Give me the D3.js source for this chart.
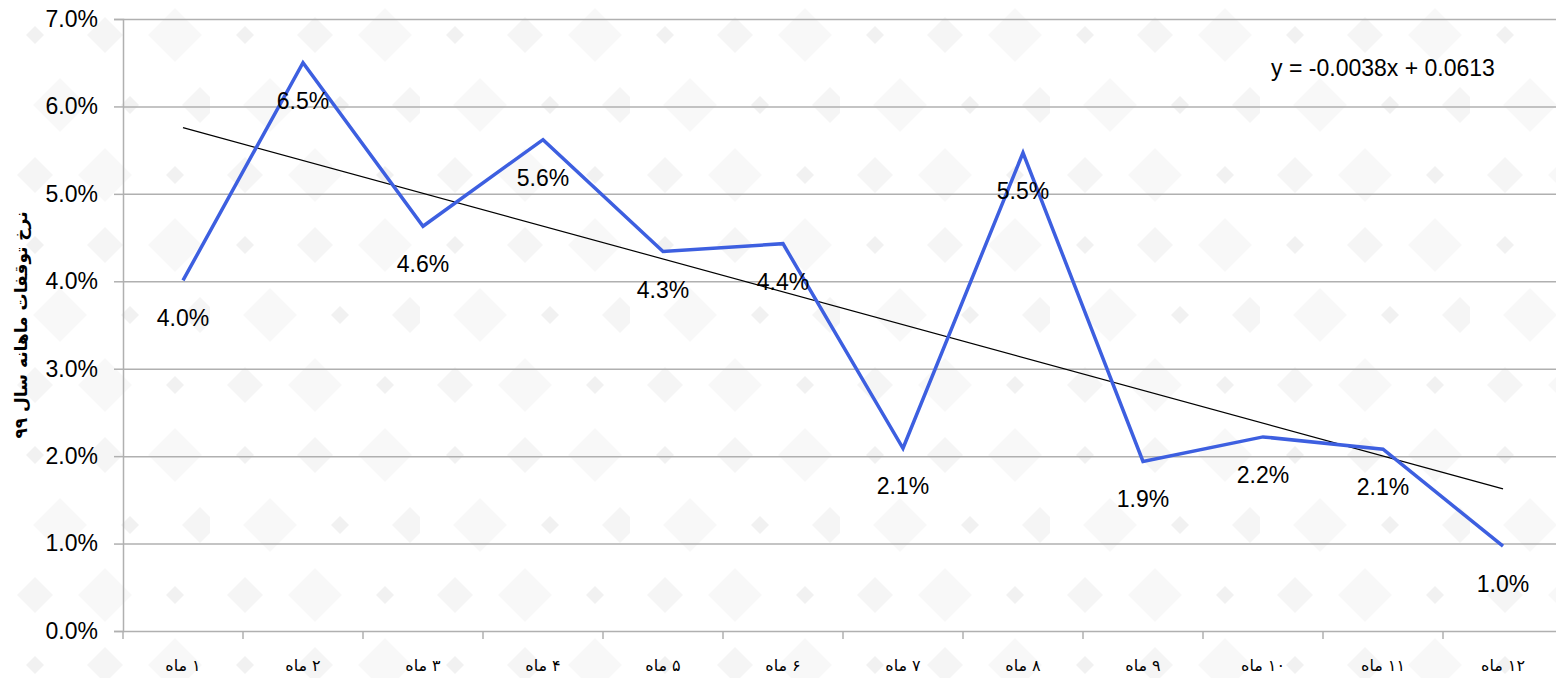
<!DOCTYPE html>
<html>
<head>
<meta charset="utf-8">
<script src="https://cdn.jsdelivr.net/npm/d3@7"></script>
<style>
    body { margin: 0; background: #fff; }
    svg { display: block; }
    .num { font-family: "Liberation Sans", Arial, sans-serif; font-size: 23px; fill: #000; }
    .fa { font-family: "DejaVu Sans", sans-serif; fill: #000; }
</style>
</head>
<body>
<svg id="chart" width="1556" height="678"></svg>
<script>
// categories: month 1 .. month 12 (Persian)
const months = ["ماه ۱", "ماه ۲", "ماه ۳", "ماه ۴", "ماه ۵", "ماه ۶",
                "ماه ۷", "ماه ۸", "ماه ۹", "ماه ۱۰", "ماه ۱۱", "ماه ۱۲"];
// monthly stop rate, year 99
const rates = [0.0401, 0.0650, 0.0463, 0.0562, 0.0434, 0.0443,
               0.0209, 0.0547, 0.0194, 0.0222, 0.0208, 0.0097];
const yTicks = [0, 0.01, 0.02, 0.03, 0.04, 0.05, 0.06, 0.07];
const yTitle = "نرخ توقفات ماهانه سال ۹۹";

function linearFit(vals) {
    // least squares on x = 1..n, same as excel's linear trendline
    const xs = vals.map((v, i) => i + 1);
    const mx = d3.mean(xs), my = d3.mean(vals);
    const sxy = d3.sum(vals, (v, i) => (xs[i] - mx) * (v - my));
    const sxx = d3.sum(xs, x => (x - mx) * (x - mx));
    const slope = sxy / sxx;
    return { slope: slope, intercept: my - slope * mx };
}

function buildChart() {
    const svg = d3.select("#chart");
    const left = 123, top = 19, bottom = 631, band = 120;

    const x = d3.scaleBand().domain(months).range([left, left + band * months.length]);
    const y = d3.scaleLinear().domain([0, 0.07]).range([bottom, top]);
    const cx = m => x(m) + x.bandwidth() / 2;

    // background diamonds (decoration only)
    const defs = svg.append("defs");
    const pat = defs.append("pattern").attr("id", "dia").attr("patternUnits", "userSpaceOnUse")
        .attr("width", 210).attr("height", 210);
    const sizes = [9, 18, 27], shades = ["#e2e2e2", "#ebebeb", "#f1f1f1"];
    for (let i = 0; i < 3; i++) {
        for (let j = 0; j < 3; j++) {
            const k = (i + 2 * j) % 3, s = sizes[k];
            const px = i * 70 + 35 + (j % 2) * 25, py = j * 70 + 35;
            pat.append("path")
                .attr("d", `M${px},${py - s}L${px + s},${py}L${px},${py + s}L${px - s},${py}Z`)
                .attr("fill", shades[k]);
        }
    }
    svg.append("rect").attr("width", 1556).attr("height", 678).attr("fill", "url(#dia)").attr("opacity", 0.5);

    // gridlines + y axis
    svg.append("g").attr("transform", `translate(${left},0)`)
        .call(d3.axisLeft(y).tickValues(yTicks).tickSize(-(1556 - left)).tickFormat(""))
        .call(g => g.select(".domain").remove())
        .call(g => g.selectAll("line").attr("stroke", "#b0b0b0").attr("stroke-width", 1.5));

    svg.append("g").attr("transform", `translate(${left},0)`)
        .call(d3.axisLeft(y).tickValues(yTicks).tickSize(9).tickPadding(16).tickFormat(d3.format(".1%")))
        .call(g => g.select(".domain").attr("stroke", "#b0b0b0").attr("stroke-width", 1.5))
        .call(g => g.selectAll("line").attr("stroke", "#b0b0b0").attr("stroke-width", 1.5))
        .call(g => g.selectAll("text").attr("class", "num").attr("font-family", null).attr("font-size", null));

    // x axis ticks at band edges
    const edges = months.map(m => x(m)).concat([x.range()[1]]);
    svg.append("g").selectAll("line").data(edges).enter().append("line")
        .attr("x1", d => d).attr("x2", d => d)
        .attr("y1", bottom).attr("y2", bottom + 8)
        .attr("stroke", "#b0b0b0").attr("stroke-width", 1.5);

    // x labels: word on the left, number on the right (as in the original),
    // so the two parts are drawn as separate texts and centred together
    const xl = svg.append("g").selectAll("g").data(months).enter().append("g");
    xl.each(function (d) {
        const g = d3.select(this);
        const parts = d.split(" ");
        const w = g.append("text").attr("class", "fa").attr("font-size", 16).attr("y", 671).text(parts[0]);
        const ww = w.node().getComputedTextLength();
        const n = g.append("text").attr("class", "fa").attr("font-size", 16).attr("y", 671)
            .attr("x", ww + 5).text(parts[1]);
        const total = ww + 5 + n.node().getComputedTextLength();
        g.attr("transform", `translate(${cx(d) - total / 2},0)`);
    });

    // y title
    svg.append("text").attr("class", "fa")
        .attr("font-size", 17).attr("font-weight", "bold")
        .attr("transform", `translate(21,${(top + bottom) / 2}) rotate(-90)`)
        .attr("text-anchor", "middle").attr("dy", "0.35em")
        .text(yTitle);

    // trendline
    const fit = linearFit(rates);
    const ends = [0, months.length - 1];
    svg.append("path")
        .attr("d", d3.line().x(i => cx(months[i])).y(i => y(fit.intercept + fit.slope * (i + 1)))(ends))
        .attr("fill", "none").attr("stroke", "#000").attr("stroke-width", 1.2);

    // series line
    const line = d3.line().x((d, i) => cx(months[i])).y(d => y(d));
    svg.append("path").attr("d", line(rates))
        .attr("fill", "none").attr("stroke", "#3d5fe0").attr("stroke-width", 3.5);

    // data labels below points
    svg.append("g").selectAll("text").data(rates).enter().append("text")
        .attr("class", "num")
        .attr("x", (d, i) => cx(months[i])).attr("y", d => y(d) + 38)
        .attr("dy", "0.35em").attr("text-anchor", "middle")
        .text(d => d3.format(".1%")(d));

    // trendline equation
    svg.append("text").attr("class", "num")
        .attr("x", 1383).attr("y", 68).attr("dy", "0.35em").attr("text-anchor", "middle")
        .text(`y = ${fit.slope.toFixed(4)}x + ${fit.intercept.toFixed(4)}`);
}

buildChart();
</script>
</body>
</html>
